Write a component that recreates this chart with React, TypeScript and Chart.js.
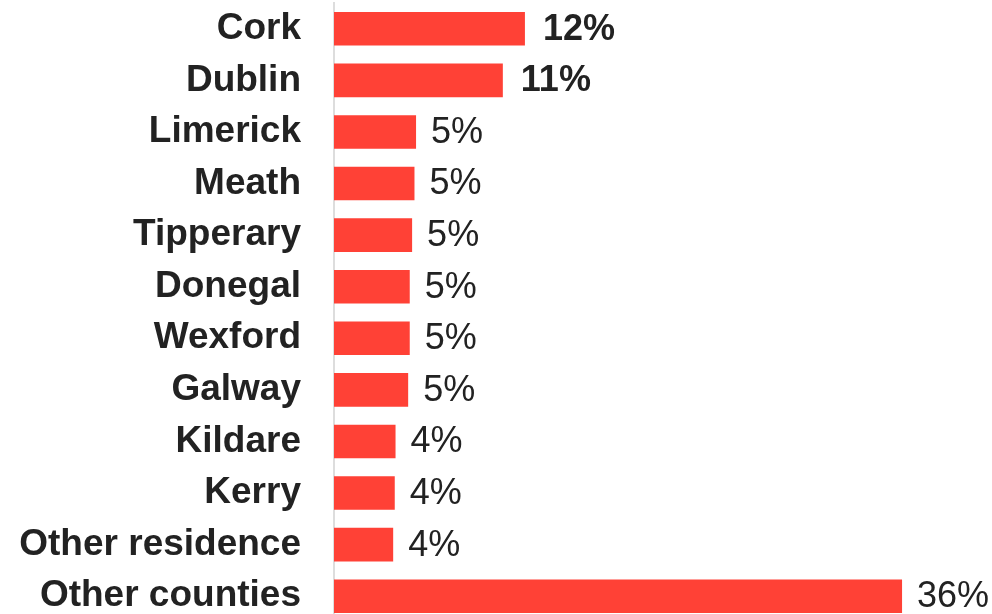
import React, { useEffect, useRef } from "react";
import { Chart, registerables } from "chart.js";

Chart.register(...registerables);

const categories = [
  "Cork",
  "Dublin",
  "Limerick",
  "Meath",
  "Tipperary",
  "Donegal",
  "Wexford",
  "Galway",
  "Kildare",
  "Kerry",
  "Other residence",
  "Other counties",
];

const shares = [12.1, 10.7, 5.2, 5.1, 4.95, 4.8, 4.8, 4.7, 3.9, 3.85, 3.75, 36];

const highlighted = ["Cork", "Dublin"];

const BAR_COLOR = "#FF4136";
const TEXT_COLOR = "#222222";
const FONT_FAMILY = "'Liberation Sans', Arial, sans-serif";

const valueLabelPlugin = {
  id: "valueLabels",
  afterDatasetsDraw(chart: any) {
    const ctx = chart.ctx;
    const meta = chart.getDatasetMeta(0);
    ctx.save();
    ctx.fillStyle = TEXT_COLOR;
    ctx.textBaseline = "middle";
    ctx.textAlign = "left";
    meta.data.forEach((el: any, i: number) => {
      const v = shares[i];
      const bold = highlighted.includes(categories[i]);
      ctx.font = `${bold ? "bold " : ""}36px ${FONT_FAMILY}`;
      ctx.fillText(`${Math.round(v)}%`, el.x + (bold ? 18 : 15), el.y + 1);
    });
    ctx.restore();
  },
};

export default function App() {
  const canvasRef = useRef<HTMLCanvasElement | null>(null);

  useEffect(() => {
    if (!canvasRef.current) return;
    const chart = new Chart(canvasRef.current, {
      type: "bar",
      data: {
        labels: categories,
        datasets: [
          {
            data: shares,
            backgroundColor: BAR_COLOR,
            borderWidth: 0,
            barPercentage: 0.65,
            categoryPercentage: 1,
          },
        ],
      },
      options: {
        indexAxis: "y",
        responsive: false,
        animation: false,
        layout: { padding: { top: 3, bottom: 0, left: 0, right: 0 } },
        plugins: {
          legend: { display: false },
          tooltip: { enabled: false },
        },
        scales: {
          x: {
            display: false,
            min: 0,
            max: 41.7,
          },
          y: {
            grid: { display: false, drawTicks: false },
            border: { display: true, color: "#dddddd", width: 2 },
            ticks: {
              color: TEXT_COLOR,
              padding: 33,
              font: { family: FONT_FAMILY, size: 37, weight: "bold" },
            },
            afterFit(scale: any) {
              scale.width = 334;
              scale.paddingTop = 0;
              scale.paddingBottom = 0;
            },
          },
        },
      },
      plugins: [valueLabelPlugin],
    });
    return () => chart.destroy();
  }, []);

  return (
    <div
      style={{
        position: "fixed",
        left: 0,
        top: 0,
        width: 992,
        height: 614,
        overflow: "hidden",
        background: "#ffffff",
      }}
    >
      <canvas ref={canvasRef} width={992} height={622} style={{ display: "block" }} />
    </div>
  );
}
